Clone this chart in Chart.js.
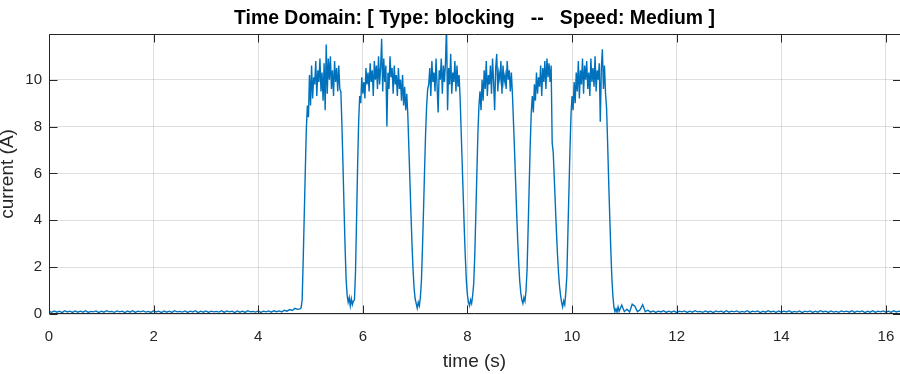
<!DOCTYPE html>
<html>
<head>
<meta charset="utf-8">
<title>Time Domain</title>
<script src="https://cdn.jsdelivr.net/npm/chart.js@4.4.1/dist/chart.umd.min.js"></script>
<style>
  html, body { margin: 0; padding: 0; background: #ffffff; }
  #wrap { width: 900px; height: 374px; }
</style>
</head>
<body>
<div id="wrap"><canvas id="trace" width="900" height="374"></canvas></div>
<script>
// Motor current recording, sampled in three stretches:
// idle before the run, the six-pulse blocking burst, and idle after it.

const titleText = 'Time Domain: [ Type: blocking   --   Speed: Medium ]';
const xAxisLabel = 'time (s)';
const yAxisLabel = 'current (A)';

const timeRange = [0, 16.27];     // s
const currentRange = [0, 11.95];  // A
const xTickStep = 2;
const yTickStep = 2;

// Idle stretch, 0.00 s to 4.75 s, one sample every 0.05 s (A)
const idleStart = 0;
const idleStep = 0.05;
const idleCurrent = [
  0.11, 0.07, 0.13, 0.08, 0.12, 0.06, 0.14, 0.09, 0.12, 0.07, 0.13, 0.08,
  0.12, 0.08, 0.14, 0.07, 0.11, 0.09, 0.13, 0.06, 0.12, 0.08, 0.14, 0.09,
  0.11, 0.07, 0.13, 0.09, 0.12, 0.06, 0.13, 0.08, 0.14, 0.07, 0.12, 0.09,
  0.13, 0.08, 0.11, 0.07, 0.14, 0.09, 0.12, 0.06, 0.13, 0.08, 0.12, 0.07,
  0.14, 0.09, 0.11, 0.08, 0.13, 0.07, 0.12, 0.09, 0.14, 0.06, 0.12, 0.08,
  0.13, 0.07, 0.12, 0.09, 0.11, 0.08, 0.14, 0.07, 0.13, 0.09, 0.12, 0.06,
  0.13, 0.08, 0.12, 0.07, 0.14, 0.09, 0.11, 0.08, 0.13, 0.07, 0.12, 0.09,
  0.13, 0.08, 0.14, 0.10, 0.13, 0.09, 0.16, 0.12, 0.19, 0.15, 0.24, 0.20
];

// Burst stretch, 4.80 s to 10.88 s, one sample every 0.02 s (A)
const burstStart = 4.8;
const burstStep = 0.02;
const burstCurrent = [
  // 4.80 - 4.94 switch-on
  0.22, 0.26, 0.6, 2.3, 4.2, 6.1, 7.9, 8.9,
  // 4.96 - 5.56 pulse 1
  8.4, 10.2, 8.9, 10.6, 9.2, 10.1, 9.8, 10.8, 9.3, 10.4, 9.9, 10.9, 9.5, 10.3, 9.1, 10.7,
  8.7, 11.5, 9.4, 10.9, 10.0, 11.0, 9.6, 10.4, 9.3, 10.8, 9.9, 10.5, 9.5, 10.6, 9.6,
  // 5.58 - 5.94 release and re-engage
  9.5, 8.1, 6.4, 4.6, 2.9, 1.5, 0.8, 0.5, 0.7, 0.35, 0.65, 0.4, 0.55, 0.6, 1.8, 4.0, 6.3, 8.2, 9.3,
  // 5.96 - 6.84 pulse 2
  9.0, 10.1, 9.4, 9.9, 9.2, 10.5, 9.8, 10.3, 9.5, 10.7, 9.9, 10.4, 9.3, 10.8, 10.0, 10.6,
  9.6, 11.0, 9.8, 10.5, 11.75, 9.5, 10.9, 9.9, 10.6, 8.0, 10.3, 9.6, 11.0, 10.1, 10.5, 9.4,
  10.6, 9.8, 10.2, 9.3, 10.5, 9.6, 10.0, 9.1, 10.2, 8.9, 9.7, 8.7, 9.4,
  // 6.86 - 7.24 release and re-engage
  8.5, 7.1, 5.7, 4.3, 3.0, 1.9, 1.1, 0.65, 0.45, 0.25, 0.5, 0.35, 0.7, 1.4, 2.8, 4.4, 6.1, 7.7, 8.9, 9.6,
  // 7.26 - 7.84 pulse 3
  9.8, 10.5, 9.3, 10.8, 9.9, 10.3, 9.5, 10.9, 9.7, 8.6, 10.4, 10.0, 10.9, 9.4, 10.6,
  9.9, 10.7, 12.3, 8.7, 10.5, 9.8, 11.1, 9.4, 10.3, 9.9, 10.8, 9.5, 10.6, 9.7, 10.2,
  // 7.86 - 8.24 release and re-engage
  9.2, 7.8, 6.4, 5.0, 3.6, 2.4, 1.4, 0.8, 0.5, 0.35, 0.6, 0.45, 0.8, 1.3, 2.5, 4.2, 6.0, 7.7, 8.9, 9.5,
  // 8.26 - 8.84 pulse 4
  8.7, 10.0, 9.1, 10.4, 9.6, 10.8, 9.3, 10.2, 9.8, 10.6, 9.4, 10.9, 9.9, 8.7, 10.5,
  11.1, 9.5, 10.3, 10.0, 10.8, 9.4, 10.6, 9.9, 10.2, 9.6, 10.8, 10.0, 10.4, 9.5, 10.3,
  // 8.86 - 9.24 release and re-engage
  9.4, 8.2, 7.0, 5.7, 4.4, 3.2, 2.2, 1.4, 0.9, 0.6, 0.45, 0.7, 0.55, 1.0, 1.9, 3.6, 5.4, 7.2, 8.6, 9.3,
  // 9.26 - 9.60 pulse 5
  8.6, 9.8, 9.1, 10.3, 9.4, 10.1, 9.7, 10.6, 9.3, 10.5, 9.9, 10.8, 9.6, 10.9, 10.1, 10.7, 9.9, 10.6,
  // 9.62 - 10.00 release and re-engage
  7.3, 6.9, 5.8, 4.7, 3.6, 2.6, 1.8, 1.2, 0.8, 0.5, 0.3, 0.55, 0.4, 0.9, 1.6, 3.4, 5.2, 7.0, 8.5, 9.3,
  // 10.02 - 10.64 pulse 6
  8.7, 9.9, 9.0, 10.3, 9.5, 10.8, 9.2, 10.4, 9.8, 10.9, 9.4, 10.6, 10.0, 10.8, 9.6, 10.3,
  9.3, 10.9, 9.9, 10.5, 9.7, 11.0, 9.5, 10.4, 10.0, 10.7, 8.2, 10.5, 11.3, 9.6, 10.6, 9.4,
  // 10.66 - 10.88 switch-off
  8.8, 7.3, 5.7, 4.2, 2.8, 1.6, 0.8, 0.3, 0.1, 0.22, 0.08, 0.3
];

// Idle stretch after the run, 10.90 s to 16.30 s, one sample every 0.05 s (A)
const afterStart = 10.9;
const afterStep = 0.05;
const afterCurrent = [
  0.12, 0.38, 0.10, 0.20, 0.09, 0.42, 0.33, 0.10, 0.18, 0.40, 0.10, 0.16,
  0.08, 0.13, 0.07, 0.12, 0.09, 0.14, 0.07, 0.12, 0.08, 0.13, 0.06, 0.12,
  0.09, 0.13, 0.07, 0.12, 0.08, 0.14, 0.09, 0.11, 0.07, 0.13, 0.08, 0.12,
  0.06, 0.13, 0.09, 0.12, 0.07, 0.14, 0.08, 0.12, 0.09, 0.13, 0.07, 0.11,
  0.08, 0.14, 0.07, 0.12, 0.09, 0.13, 0.06, 0.12, 0.08, 0.14, 0.09, 0.12,
  0.07, 0.13, 0.08, 0.12, 0.09, 0.14, 0.07, 0.11, 0.08, 0.13, 0.06, 0.12,
  0.09, 0.13, 0.07, 0.12, 0.08, 0.14, 0.09, 0.12, 0.07, 0.13, 0.08, 0.11,
  0.07, 0.13, 0.09, 0.12, 0.08, 0.14, 0.07, 0.12, 0.09, 0.13, 0.06, 0.12,
  0.08, 0.14, 0.07, 0.12, 0.09, 0.13, 0.08, 0.12, 0.07, 0.14, 0.09, 0.12,
  0.08
];

// Pair every sample of a stretch with its timestamp.
function stamp(start, step, values) {
  return values.map((v, i) => ({ x: +(start + i * step).toFixed(3), y: v }));
}

const tracePoints = [
  ...stamp(idleStart, idleStep, idleCurrent),
  ...stamp(burstStart, burstStep, burstCurrent),
  ...stamp(afterStart, afterStep, afterCurrent)
];

const FONT = '"Liberation Sans", Arial, Helvetica, sans-serif';
const AXIS_INK = '#262626';
const GRID_INK = 'rgba(38, 38, 38, 0.15)';
const TICK_LEN = 8;

// Axes outline (left, top, bottom; the right edge sits just past the canvas)
// with inward tick marks on all four sides.
const axesFrame = {
  id: 'axesFrame',
  afterDatasetsDraw(chart) {
    const { ctx, chartArea: a, scales: { x, y } } = chart;
    const L = Math.round(a.left) + 0.5;
    const R = Math.round(a.right);
    const T = Math.round(a.top) + 0.5;
    const B = Math.round(a.bottom) - 0.5;
    ctx.save();
    ctx.strokeStyle = AXIS_INK;
    ctx.lineWidth = 1;
    ctx.beginPath();
    ctx.moveTo(R, T); ctx.lineTo(L, T); ctx.lineTo(L, B); ctx.lineTo(R, B);
    x.ticks.forEach(t => {
      const px = Math.round(x.getPixelForValue(t.value)) + 0.5;
      ctx.moveTo(px, B); ctx.lineTo(px, B - TICK_LEN);
      ctx.moveTo(px, T); ctx.lineTo(px, T + TICK_LEN);
    });
    y.ticks.forEach(t => {
      const py = Math.round(y.getPixelForValue(t.value)) + 0.5;
      ctx.moveTo(L, py); ctx.lineTo(L + TICK_LEN, py);
      ctx.moveTo(R + 1, py); ctx.lineTo(R + 1 - TICK_LEN, py);
    });
    ctx.stroke();
    ctx.restore();
  }
};

new Chart(document.getElementById('trace'), {
  type: 'line',
  data: {
    datasets: [{
      data: tracePoints,
      borderColor: '#0072BD',
      borderWidth: 1.4,
      pointRadius: 0,
      tension: 0,
      fill: false
    }]
  },
  options: {
    responsive: false,
    devicePixelRatio: 1,
    animation: false,
    events: [],
    normalized: true,
    layout: { padding: { left: 0, right: 0, top: 0, bottom: 0 } },
    plugins: {
      legend: { display: false },
      tooltip: { enabled: false },
      title: {
        display: true,
        fullSize: false,
        text: titleText,
        color: '#000000',
        font: { family: FONT, size: 19.4, weight: 'bold', lineHeight: 1.2 },
        padding: { top: 7.5, bottom: 3.2 }
      }
    },
    scales: {
      x: {
        type: 'linear',
        min: timeRange[0],
        max: timeRange[1],
        afterFit(scale) {
          scale.height = 60;
          scale.paddingLeft = 0;
          scale.paddingRight = 0;
        },
        ticks: {
          stepSize: xTickStep,
          includeBounds: false,
          autoSkip: false,
          maxRotation: 0,
          padding: 14,
          color: AXIS_INK,
          font: { family: FONT, size: 15 }
        },
        grid: { color: GRID_INK, lineWidth: 1, drawTicks: false },
        border: { display: false },
        title: {
          display: true,
          text: xAxisLabel,
          color: AXIS_INK,
          font: { family: FONT, size: 19, lineHeight: 1.2 },
          padding: { top: 0, bottom: 0.5 }
        }
      },
      y: {
        type: 'linear',
        min: currentRange[0],
        max: currentRange[1],
        afterFit(scale) {
          scale.width = 49;
          scale.paddingTop = 0;
          scale.paddingBottom = 0;
        },
        ticks: {
          stepSize: yTickStep,
          includeBounds: false,
          padding: 7,
          color: AXIS_INK,
          font: { family: FONT, size: 15 }
        },
        grid: { color: GRID_INK, lineWidth: 1, drawTicks: false },
        border: { display: false },
        title: {
          display: true,
          text: yAxisLabel,
          color: AXIS_INK,
          font: { family: FONT, size: 19, lineHeight: 1.2 },
          padding: { top: -3.5, bottom: 0 }
        }
      }
    }
  },
  plugins: [axesFrame]
});
</script>
</body>
</html>
